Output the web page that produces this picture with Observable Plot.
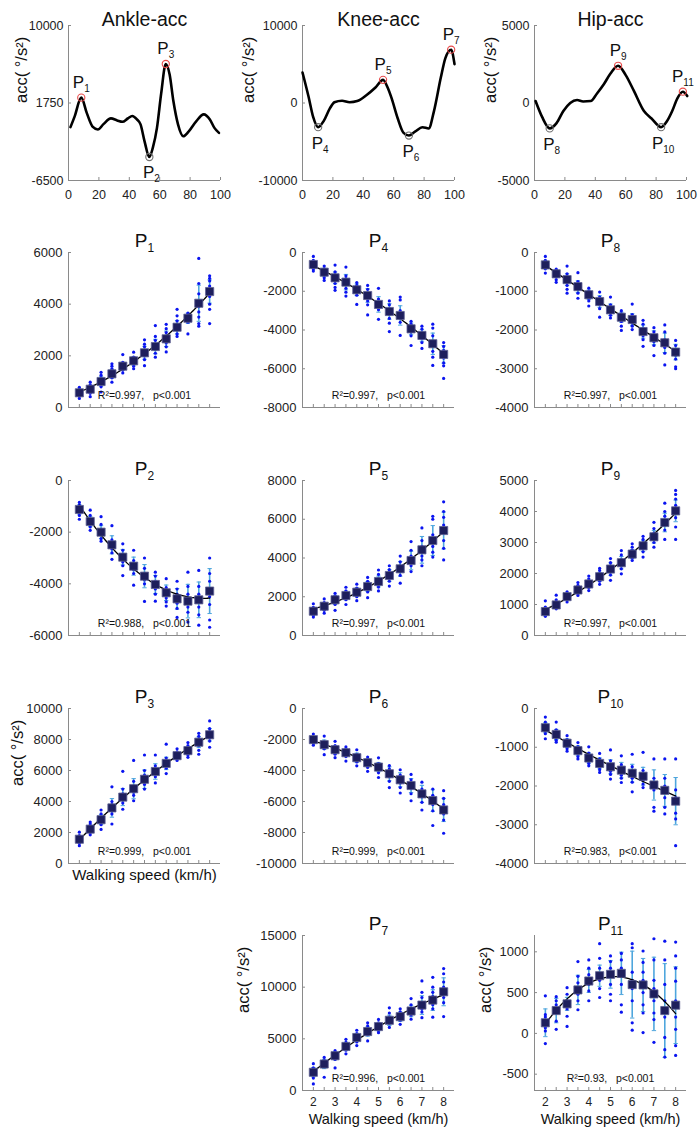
<!DOCTYPE html>
<html><head><meta charset="utf-8">
<script src="https://cdn.jsdelivr.net/npm/d3@7"></script>
<script src="https://cdn.jsdelivr.net/npm/@observablehq/plot@0.6"></script>
<style>
body{margin:0;background:#fff;}
#page{position:relative;width:700px;height:1133px;overflow:hidden;background:#fff;font-family:"Liberation Sans",Arial,sans-serif;}
#page svg{position:absolute;}
</style></head><body><div id="page"></div>
<script>
// ---------- DATA ----------
const speeds = [2,2.5,3,3.5,4,4.5,5,5.5,6,6.5,7,7.5,8];
const speedLabels = [2,3,4,5,6,7,8];
const cycleTicks = [0,20,40,60,80,100];

// Gait-cycle waveforms [% gait cycle, acc]
const ankleWave = [[1.3,-820],[4,300],[8.4,2320],[12,700],[16,-800],[19.3,-1070],[23,-500],[27.9,110],[32,-100],[35.5,-250],[39,100],[42,360],[45,0],[47.4,-530],[50,-2300],[53.2,-4000],[55.5,-3000],[58.2,-900],[61,2800],[64,5900],[66.5,4800],[69,1960],[72,-500],[75.5,-1790],[79,-1300],[84,-200],[89,540],[93,0],[96,-900],[99,-1430]];
const kneeWave = [[0,3935],[4,800],[7,-1800],[10.3,-3120],[14,-2300],[18,-700],[21,100],[26,300],[31,100],[36,250],[42,1000],[48,2000],[53,2985],[56,2000],[58.5,690],[62.5,-1900],[66.5,-3860],[70,-4200],[74,-3700],[79,-3120],[83,-3290],[86.5,-1040],[91,3280],[94,5800],[97.8,6880],[100,5020]];
const hipWave = [[0.7,130],[5,-900],[10,-1640],[14.5,-1300],[19,-520],[23.5,0],[28,190],[32,100],[37,130],[41,600],[45.6,1210],[50,1900],[55,2400],[60,1800],[65.4,780],[72,-520],[77,-1000],[83.3,-1560],[87,-1200],[90.6,-520],[94,300],[97.6,730],[100.5,450]];

const anklePeaks = [{name:"P1",x:8.4,y:2320,kind:"max"},{name:"P2",x:53.2,y:-4000,kind:"min"},{name:"P3",x:64,y:5900,kind:"max"}];
const kneePeaks = [{name:"P4",x:10.3,y:-3120,kind:"min"},{name:"P5",x:53,y:2985,kind:"max"},{name:"P6",x:70,y:-4200,kind:"min"},{name:"P7",x:97.8,y:6880,kind:"max"}];
const hipPeaks = [{name:"P8",x:10,y:-1640,kind:"min"},{name:"P9",x:55,y:2400,kind:"max"},{name:"P10",x:83.3,y:-1560,kind:"min"},{name:"P11",x:97.6,y:730,kind:"max"}];

const waveTitles = ["Ankle-acc","Knee-acc","Hip-acc"];
const waveDomains = [[-6500,10000],[-10000,10000],[-5000,5000]];
const waveTicks = [[-6500,1750,10000],[-10000,0,10000],[-5000,0,5000]];

// Peak values vs walking speed: mean, SD, individual samples
const p1Mean = [569,708,1006,1304,1600,1806,2117,2360,2658,3108,3456,4036,4489];
const p1Sd = [90,110,180,170,150,160,250,280,300,260,200,700,450];
const p1Pts = [[350,450,500,550,600,650,700,780],[420,550,620,680,720,800,880,980],[600,800,900,950,1050,1150,1250,1360],[980,1150,1250,1300,1400,1500,1600,1690],[1340,1450,1520,1580,1650,1750,2050],[1500,1600,1700,1780,1850,1950,2140],[1620,1850,2000,2100,2200,2350,2450,2620],[1950,2100,2250,2350,2450,2600,2750,3170],[2150,2350,2500,2600,2750,2900,3050,3220],[2750,2850,3000,3100,3200,3350,3550,3800],[2850,3300,3400,3450,3550,3650],[3150,3250,3500,3700,3900,4100,4400,4800,5770],[3250,3800,4000,4300,4500,4700,4900,5000,5100]];

const p2Mean = [-1122,-1587,-2000,-2490,-2967,-3316,-3703,-4025,-4347,-4580,-4670,-4620,-4280];
const p2Sd = [180,200,250,350,300,350,450,350,300,400,650,690,870];
const p2Pts = [[-850,-950,-1050,-1150,-1250,-1350,-1500],[-1150,-1350,-1500,-1600,-1700,-1800,-1930],[-1400,-1700,-1900,-2000,-2100,-2250,-2350],[-1750,-2300,-2450,-2550,-2650,-2800,-3050],[-2450,-2700,-2850,-3000,-3150,-3300,-3680],[-2700,-3100,-3250,-3350,-3450,-3600,-4050],[-3000,-3400,-3600,-3700,-3850,-4000,-4680],[-3550,-3700,-3900,-4050,-4200,-4400,-4670],[-3800,-4150,-4300,-4400,-4550,-4700,-4860],[-3900,-4200,-4400,-4550,-4750,-4950,-5300],[-3550,-4100,-4400,-4650,-4900,-5100,-5480],[-3480,-4100,-4400,-4650,-4900,-5200,-5600],[-3000,-3600,-3900,-4200,-4500,-4800,-5400,-5680]];

const p3Mean = [1565,2217,2826,3587,4283,4826,5435,5935,6457,6957,7283,7826,8305];
const p3Sd = [200,220,320,600,550,650,600,500,400,200,250,350,400];
const p3Pts = [[1150,1300,1450,1550,1650,1800,2020],[1850,2000,2150,2250,2400,2550,2670],[2200,2500,2700,2850,3000,3200,3450],[2550,3200,3400,3600,3800,4000,4950],[3500,3900,4100,4300,4500,4800,5950],[4050,4400,4600,4800,5000,5300,6650],[4800,5100,5300,5500,5700,6000,7000],[5200,5600,5800,5950,6100,6300,7000],[5800,6150,6300,6450,6600,6800,7700],[6650,6800,6900,7000,7100,7200,7400],[6850,7000,7150,7300,7450,7600,7800],[7050,7300,7600,7800,8000,8200,8400],[7500,7900,8100,8300,8500,8700,9200]];

const p4Mean = [-620,-1016,-1307,-1530,-1925,-2220,-2680,-3045,-3250,-3940,-4280,-4710,-5260];
const p4Sd = [200,200,300,400,300,350,400,400,500,300,300,550,450];
const p4Pts = [[-200,-400,-550,-650,-750,-850,-960],[-700,-850,-950,-1050,-1150,-1300,-1440],[-650,-1000,-1150,-1300,-1450,-1600,-1800,-1950],[-750,-1200,-1350,-1500,-1650,-1850,-2050,-2250],[-1550,-1700,-1850,-1950,-2050,-2200,-2680],[-1700,-1900,-2100,-2200,-2350,-2500,-2700,-3220],[-1850,-2400,-2600,-2700,-2800,-2950,-3450],[-2500,-2700,-2900,-3050,-3200,-3400,-3650,-4080],[-2300,-2450,-3000,-3200,-3400,-3600,-4280],[-3550,-3700,-3850,-3950,-4100,-4300,-4800],[-3800,-3950,-4150,-4300,-4450,-4650,-4950],[-3700,-3900,-4300,-4600,-4800,-5100,-5400,-5830],[-4650,-4850,-5050,-5250,-5450,-5700,-5850,-6500]];

const p5Mean = [1254,1512,1842,2064,2234,2528,2786,3096,3442,3870,4422,4902,5418];
const p5Sd = [150,180,230,220,220,260,280,300,380,480,690,770,950];
const p5Pts = [[950,1050,1150,1250,1350,1450,1640],[1150,1300,1400,1500,1600,1700,1890],[1300,1600,1750,1850,1950,2050,2180],[1600,1850,1950,2050,2150,2300,2490],[1800,2000,2100,2200,2300,2450,2650],[1950,2250,2400,2500,2650,2800,3000],[2300,2500,2650,2800,2950,3150,3380],[2550,2800,2950,3100,3250,3400,3600],[2700,3100,3300,3450,3600,3800,4100],[3300,3600,3750,3900,4100,4400,4850],[3600,3900,4100,4300,4600,4900,5550],[4050,4300,4600,4900,5200,6000,6150],[3900,4500,4900,5300,5700,6100,6400,6900]];

const p6Mean = [-2009,-2333,-2657,-2851,-3175,-3499,-3780,-4212,-4600,-4968,-5508,-5940,-6545];
const p6Sd = [200,300,250,250,300,260,300,450,450,450,550,700,750];
const p6Pts = [[-1650,-1850,-1950,-2050,-2150,-2250,-2370],[-1780,-2150,-2250,-2350,-2450,-2600,-2980],[-2120,-2400,-2550,-2650,-2800,-2950,-3170],[-2480,-2650,-2750,-2850,-2950,-3100,-3390],[-2660,-2950,-3050,-3150,-3300,-3450,-3700],[-3130,-3300,-3400,-3500,-3600,-3800,-4050],[-3180,-3550,-3700,-3800,-3950,-4150,-4450],[-3680,-3900,-4100,-4200,-4400,-4700,-5100],[-3950,-4300,-4500,-4650,-4800,-5100,-5450],[-4250,-4600,-4800,-4950,-5150,-5500,-5950],[-4750,-5200,-5400,-5550,-5700,-6050,-6550],[-5200,-5600,-5850,-6000,-6200,-6600,-7550],[-5300,-5800,-6200,-6500,-6800,-7200,-8050]];

const p7Mean = [1763,2564,3365,4263,5128,5705,6186,6795,7147,7692,8269,8750,9551];
const p7Sd = [450,450,400,400,400,450,400,500,450,550,900,1000,1350];
const p7Pts = [[640,1200,1500,1700,1900,2200,2600],[1280,2300,2450,2600,2750,2900,3200],[2180,3000,3200,3350,3500,3650,3850],[3550,3900,4100,4250,4450,4650,4950],[4350,4700,4900,5100,5300,5500,5830],[4800,5400,5600,5800,6000,6250,6550],[5600,5800,6000,6150,6350,6550,6880],[6100,6500,6700,6900,7100,7500,8000],[6400,6800,7000,7150,7300,7600,7900],[6900,7300,7500,7700,7900,8300,8900],[7050,7600,7900,8200,8500,9000,9500,10600],[7100,7900,8300,8700,9100,9500,10000,10950],[7150,8500,9000,9500,10000,10500,11300,11800]];

const p8Mean = [-320,-550,-700,-880,-1090,-1265,-1480,-1670,-1730,-2040,-2200,-2330,-2570];
const p8Sd = [100,90,150,150,120,150,150,130,150,170,180,250,200];
const p8Pts = [[-100,-200,-250,-300,-350,-420,-530],[-430,-480,-520,-570,-620,-700,-770],[-350,-550,-620,-700,-780,-850,-950,-1050],[-520,-750,-820,-880,-950,-1050,-1180],[-920,-1000,-1050,-1100,-1180,-1250,-1380],[-1020,-1150,-1200,-1280,-1350,-1450,-1670],[-1150,-1350,-1420,-1480,-1550,-1620,-1690],[-1500,-1580,-1650,-1700,-1780,-1900,-2010],[-1330,-1600,-1680,-1750,-1820,-1900,-1990],[-1750,-1850,-1950,-2050,-2150,-2250,-2420],[-1940,-2050,-2150,-2200,-2300,-2400,-2660],[-1870,-2050,-2250,-2350,-2450,-2600,-2900],[-2270,-2400,-2550,-2650,-2750,-2950,-3000]];

const p9Mean = [772,986,1254,1469,1662,1897,2144,2348,2626,2894,3184,3645,4020];
const p9Sd = [120,110,90,110,120,140,200,200,150,180,200,300,350];
const p9Pts = [[620,680,720,780,850,920,1120],[860,900,950,1000,1050,1150,1300],[1080,1150,1200,1250,1300,1350,1410],[1290,1350,1420,1480,1550,1620,1710],[1450,1550,1620,1680,1750,1830,1920],[1650,1750,1850,1920,2000,2100,2170],[1780,1950,2050,2150,2250,2350,2480],[1990,2150,2250,2350,2450,2600,2740],[2420,2500,2580,2650,2750,2850,2960],[2530,2700,2800,2900,3000,3100,3200],[2850,3000,3100,3200,3300,3450,3650],[3100,3400,3550,3700,3850,4000,4270],[3100,3500,3800,4000,4200,4400,4550,4680]];

const p10Mean = [-496,-670,-896,-1087,-1278,-1417,-1504,-1591,-1670,-1748,-1974,-2113,-2391];
const p10Sd = [130,130,110,120,130,140,180,200,230,230,390,410,610];
const p10Pts = [[-220,-350,-420,-500,-580,-650,-780],[-350,-550,-620,-680,-750,-820,-870],[-700,-800,-860,-920,-980,-1040,-1100],[-880,-980,-1050,-1100,-1170,-1240,-1300],[-990,-1150,-1250,-1300,-1370,-1420,-1480],[-1160,-1300,-1380,-1450,-1520,-1580,-1650],[-1070,-1350,-1450,-1550,-1620,-1700,-1820],[-1220,-1450,-1550,-1650,-1720,-1800,-1910],[-1180,-1500,-1600,-1700,-1800,-1900,-2150],[-1130,-1600,-1700,-1780,-1850,-1950,-2040],[-1300,-1800,-1900,-2000,-2100,-2550,-2650],[-1300,-1800,-2000,-2150,-2300,-2550,-2720],[-1300,-2100,-2300,-2450,-2700,-2850,-3540]];

const p11Mean = [130,280,362,533,642,707,724,736,598,594,484,280,346];
const p11Sd = [170,150,80,180,140,130,170,260,410,325,450,575,470];
const p11Pts = [[-125,30,70,100,150,200,230,460],[50,150,250,300,350,400,450],[85,210,300,350,400,480,560],[290,400,480,550,620,700,880],[400,520,600,650,720,800,900],[440,550,650,720,800,920,1100],[400,480,600,720,800,880,950],[260,350,600,700,800,900,980],[40,130,400,550,650,750,1050,1100],[10,250,350,500,650,750,870,1010],[-110,170,250,400,550,650,900,1160],[-290,-200,-50,200,400,600,900,1130],[-270,-150,50,200,400,640,800,950,1120]];

const pNames = ["P1","P2","P3","P4","P5","P6","P7","P8","P9","P10","P11"];
const pMeans = [p1Mean,p2Mean,p3Mean,p4Mean,p5Mean,p6Mean,p7Mean,p8Mean,p9Mean,p10Mean,p11Mean];
const pSds = [p1Sd,p2Sd,p3Sd,p4Sd,p5Sd,p6Sd,p7Sd,p8Sd,p9Sd,p10Sd,p11Sd];
const pPts = [p1Pts,p2Pts,p3Pts,p4Pts,p5Pts,p6Pts,p7Pts,p8Pts,p9Pts,p10Pts,p11Pts];
const pDomains = [[0,6000],[-6000,0],[0,10000],[-8000,0],[0,8000],[-10000,0],[0,15000],[-4000,0],[0,5000],[-4000,0],[-700,1200]];
const pTicks = [[0,2000,4000,6000],[-6000,-4000,-2000,0],[0,2000,4000,6000,8000,10000],[-8000,-6000,-4000,-2000,0],[0,2000,4000,6000,8000],[-10000,-8000,-6000,-4000,-2000,0],[0,5000,10000,15000],[-4000,-3000,-2000,-1000,0],[0,1000,2000,3000,4000,5000],[-4000,-3000,-2000,-1000,0],[-500,0,500,1000]];
const pR2 = ["0.997","0.988","0.999","0.997","0.997","0.999","0.996","0.997","0.997","0.983","0.93"];
const yLabelText = "acc( °/s²)";
const xLabelText = "Walking speed (km/h)";

// ---------- LAYOUT ----------
const FONT = '"Liberation Sans", Arial, Helvetica, sans-serif';
const AX = "#8a8a8a", TXT = "#222";
const colX = [68, 302, 534];
const rowTop = [25, 252, 480, 708, 935];
const PW = 152, PH = 155, MT = 35, MB = 45, ML = 64, MR = 14;
// [panel index, col, row, ylabel offset or 0, x labels mode]
const layout = [
  [0,0,1,0,""],[3,1,1,0,""],[7,2,1,0,""],
  [1,0,2,0,""],[4,1,2,0,""],[8,2,2,0,""],
  [2,0,3,51,"label"],[5,1,3,0,""],[9,2,3,0,""],
  [6,1,4,59,"full"],[10,2,4,49,"full"]
];
const waveLabelOffset = [47,54,44];

const page = document.getElementById("page");
const SVGNS = "http://www.w3.org/2000/svg";

function subscriptify(svg, small) {
  svg.querySelectorAll("text").forEach(t => {
    const m = /^P(\d+)$/.exec(t.textContent);
    if (!m) return;
    t.textContent = "P";
    const s = document.createElementNS(SVGNS, "tspan");
    s.setAttribute("font-size", small);
    s.setAttribute("dy", "0.4em");
    s.textContent = m[1];
    t.appendChild(s);
  });
}
function place(svg, col, row) {
  svg.style.left = (colX[col] - ML) + "px";
  svg.style.top = (rowTop[row] - MT) + "px";
  page.appendChild(svg);
}
function quadFit(xs, ys) {
  const xm = d3.mean(xs);
  const u = xs.map(x => x - xm);
  const S = [0,0,0,0,0], T = [0,0,0];
  u.forEach((x,i) => { for (let k=0;k<5;k++) S[k]+=x**k; for (let k=0;k<3;k++) T[k]+=ys[i]*x**k; });
  const A = [[S[0],S[1],S[2],T[0]],[S[1],S[2],S[3],T[1]],[S[2],S[3],S[4],T[2]]];
  for (let i=0;i<3;i++) for (let j=i+1;j<3;j++) { const f=A[j][i]/A[i][i]; for (let k=i;k<4;k++) A[j][k]-=f*A[i][k]; }
  const c=[0,0,0];
  for (let i=2;i>=0;i--) { let s=A[i][3]; for (let k=i+1;k<3;k++) s-=A[i][k]*c[k]; c[i]=s/A[i][i]; }
  return x => c[0] + c[1]*(x-xm) + c[2]*(x-xm)**2;
}
const base = {
  width: ML+PW+MR, height: MT+PH+MB,
  marginTop: MT, marginBottom: MB, marginLeft: ML, marginRight: MR,
  style: {background: "transparent", overflow: "visible", fontFamily: FONT, color: TXT}
};

// ---------- WAVEFORMS ----------
const waves = [ankleWave, kneeWave, hipWave];
const peaks = [anklePeaks, kneePeaks, hipPeaks];
waves.forEach((w, c) => {
  const dom = waveDomains[c];
  const svg = Plot.plot({
    ...base,
    x: {domain: [0,100]},
    y: {domain: dom},
    marks: [
      Plot.ruleX([0], {stroke: AX}),
      Plot.ruleY([dom[0]], {stroke: AX}),
      Plot.tickX(cycleTicks, {x: d => d, insetTop: PH-3, stroke: AX}),
      Plot.tickY(waveTicks[c], {y: d => d, insetRight: PW-3, stroke: AX}),
      Plot.axisX({ticks: cycleTicks, tickSize: 0, tickPadding: 10, fontSize: 12.5, label: null, tickFormat: d => String(d)}),
      Plot.axisY({ticks: waveTicks[c], tickSize: 0, tickPadding: 5, fontSize: 12.5, label: null, tickFormat: d => String(d)}),
      Plot.line(w, {x: d => d[0], y: d => d[1], curve: "monotone-x", stroke: "#000", strokeWidth: 2.6}),
      Plot.dot(peaks[c], {x: "x", y: "y", r: 3.6, stroke: "#e84a4a", strokeWidth: 1.1, filter: d => d.kind === "max"}),
      Plot.dot(peaks[c], {x: "x", y: "y", r: 3.6, stroke: "#6e6e6e", strokeWidth: 1.1, filter: d => d.kind === "min"}),
      Plot.text(peaks[c], {x: "x", y: "y", text: "name", dy: -15, fontSize: 17, fill: "#111", filter: d => d.kind === "max"}),
      Plot.text(peaks[c], {x: "x", y: "y", text: "name", dy: 16, dx: 2, fontSize: 17, fill: "#111", filter: d => d.kind === "min"}),
      Plot.text([waveTitles[c]], {frameAnchor: "top", dy: -13, fontSize: 19.5, fill: "#111"}),
      Plot.text([yLabelText], {frameAnchor: "left", rotate: -90, dx: -waveLabelOffset[c], fontSize: 16.5, fill: "#111"})
    ]
  });
  subscriptify(svg, 10);
  place(svg, c, 0);
});

// ---------- SCATTER PANELS ----------
layout.forEach(([pi, col, row, ylab, xmode]) => {
  const mean = pMeans[pi], sd = pSds[pi], dom = pDomains[pi];
  const flat = pPts[pi].flatMap((arr, i) => arr.map(v => ({s: speeds[i], v})));
  const stats = speeds.map((s, i) => ({s, m: mean[i], lo: mean[i]-sd[i], hi: mean[i]+sd[i]}));
  const caps = stats.flatMap(d => [{s: d.s, y: d.lo}, {s: d.s, y: d.hi}]);
  const f = quadFit(speeds, mean);
  const fitPts = d3.range(2, 8.0001, 0.05).map(x => ({x, y: f(x)}));
  const marks = [
    Plot.ruleX([1.5], {stroke: AX}),
    Plot.ruleY([dom[0]], {stroke: AX}),
    Plot.tickX(speeds, {x: d => d, insetTop: PH-3, stroke: AX}),
    Plot.tickY(pTicks[pi], {y: d => d, insetRight: PW-3, stroke: AX}),
    Plot.axisY({ticks: pTicks[pi], tickSize: 0, tickPadding: 6, fontSize: 13, label: null, tickFormat: d => String(d)}),
    Plot.ruleX(stats, {x: "s", y1: "lo", y2: "hi", stroke: "#4ea6dd", strokeWidth: 1.6}),
    Plot.link(caps, {x1: d => d.s - 0.1, x2: d => d.s + 0.1, y1: "y", y2: "y", stroke: "#4ea6dd", strokeWidth: 1}),
    Plot.dot(flat, {x: "s", y: "v", r: 1.6, fill: "#0a14f0"}),
    Plot.line(fitPts, {x: "x", y: "y", stroke: "#000", strokeWidth: 1.3}),
    Plot.dot(stats, {x: "s", y: "m", symbol: "square", r: 4.6, fill: "#1e1f5c", stroke: "#5d5f92", strokeWidth: 0.8}),
    Plot.text([`R²=${pR2[pi]},\u00a0\u00a0\u00a0p<0.001`], {frameAnchor: "bottom", dy: -9, fontSize: 10.5, fill: "#111"}),
    Plot.text([pNames[pi]], {frameAnchor: "top", dy: -19, fontSize: 19, fill: "#111"})
  ];
  if (xmode === "full") {
    marks.push(Plot.axisX({ticks: speedLabels, tickSize: 0, tickPadding: 7, fontSize: 12, label: null, tickFormat: d => String(d)}));
    marks.push(Plot.text([xLabelText], {frameAnchor: "bottom", dy: 33, fontSize: 14.5, fill: "#111"}));
  } else {
    marks.push(Plot.axisX({ticks: [], label: null}));
    if (xmode === "label") marks.push(Plot.text([xLabelText], {frameAnchor: "bottom", dy: 16, fontSize: 15, fill: "#111"}));
  }
  if (ylab) marks.push(Plot.text([yLabelText], {frameAnchor: "left", rotate: -90, dx: -ylab, fontSize: 16.5, fill: "#111"}));
  const svg = Plot.plot({...base, x: {domain: [1.5, 8.5]}, y: {domain: dom}, marks});
  subscriptify(svg, 12);
  place(svg, col, row);
});
</script></body></html>
